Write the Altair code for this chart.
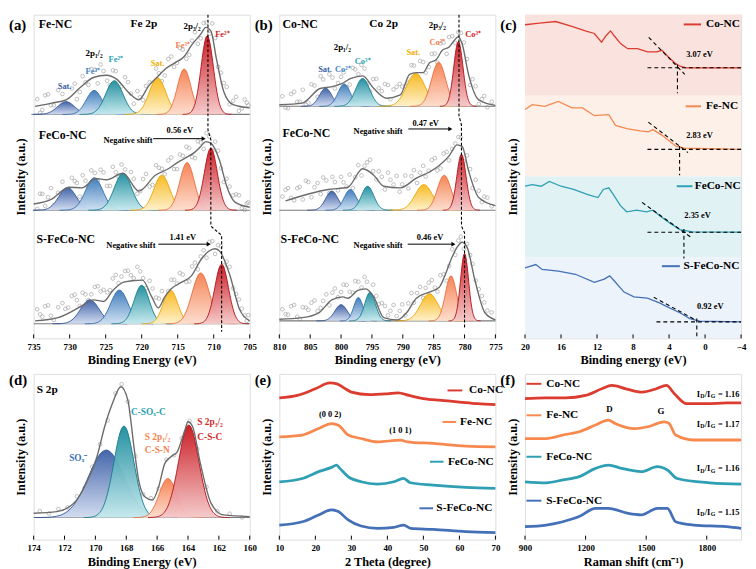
import altair as alt
import numpy as np
import pandas as pd

FONT = "Liberation Serif"
W = 219
HT = 328
HB = 168

# ================= (a) Fe 2p =================
fe_names = ["Fe-NC", "FeCo-NC", "S-FeCo-NC"]
fe_base = [69.2, 39.6, 4.5]
fe_cen = [[730.5, 726.6, 723.8, 717.8, 714.1, 710.9],
          [730.3, 726.6, 722.6, 717.2, 713.7, 710.4],
          [727.2, 723.1, 720.0, 716.0, 711.8, 708.9]]
fe_hgt = [[3.9, 7.4, 10.4, 11.3, 14.0, 24.3],
          [7.0, 10.0, 11.4, 10.8, 14.7, 19.2],
          [7.4, 10.4, 11.9, 10.4, 15.7, 18.4]]
fe_sig = [[1.2, 1.1, 1.2, 1.15, 0.95, 0.85],
          [1.2, 1.2, 1.2, 1.1, 1.0, 0.9],
          [1.3, 1.2, 1.05, 1.0, 1.2, 0.95]]
fe_env_x = [[734.8, 732.5, 730.5, 728.5, 726.7, 724.9, 723.5, 721.7, 720.4, 719.0, 717.9, 716.8, 715.4, 714.1, 713.1, 711.8, 711.1, 710.4, 709.6, 708.6, 707.3, 705.0],
            [735.0, 732.5, 730.1, 728.3, 726.4, 724.9, 722.6, 720.4, 718.1, 716.3, 715.0, 713.8, 712.7, 711.8, 711.1, 710.4, 709.2, 708.2, 707.0, 705.0],
            [734.8, 731.6, 728.0, 726.7, 725.3, 724.0, 722.6, 721.3, 719.9, 718.6, 717.7, 716.8, 715.9, 714.5, 713.1, 711.8, 710.7, 709.8, 709.1, 707.8, 706.4, 705.0]]
fe_env_y = [[71.7, 72.7, 73.7, 77.6, 80.6, 81.3, 80.1, 75.7, 73.7, 78.1, 80.6, 83.1, 85.1, 87.1, 90.5, 94.0, 96.1, 95.0, 86.1, 76.2, 72.2, 71.2],
            [41.5, 43.0, 46.7, 46.5, 49.4, 49.0, 51.0, 45.5, 50.4, 52.4, 54.4, 55.9, 57.4, 59.3, 60.8, 60.3, 55.0, 47.0, 42.0, 40.5],
            [5.4, 6.4, 10.4, 11.9, 11.4, 14.8, 17.3, 17.8, 18.0, 12.8, 9.4, 12.8, 15.3, 17.3, 19.3, 24.2, 26.9, 27.7, 26.7, 19.8, 8.9, 5.4]]
# raw data points (open circles)
fe_pts_x = [734.5, 733.8, 733.0, 732.2, 731.0, 730.2, 729.3, 728.6, 727.8, 727.0, 726.1, 725.3, 724.4, 723.6, 722.8, 721.9, 721.1, 720.2,
            719.4, 718.5, 717.6, 716.8, 715.9, 715.1, 714.3, 713.4, 712.6, 711.8, 711.0, 710.2, 709.4, 708.6, 707.8, 706.9, 706.1, 705.4]
fe_pts_y = [[73.9, 70.6, 75.4, 72.0, 75.5, 72.4, 78.7, 76.1, 79.1, 83.2, 78.8, 82.6, 78.2, 82.6, 77.8, 79.2, 72.5, 74.5,
             78.0, 76.4, 81.9, 81.2, 87.1, 85.1, 89.2, 87.6, 94.6, 92.7, 97.6, 97.3, 83.9, 78.9, 72.3, 74.6, 71.0, 72.8],
            [40.0, 44.6, 43.6, 41.1, 48.4, 45.5, 48.6, 43.8, 48.7, 51.9, 48.6, 51.3, 47.1, 51.3, 53.7, 47.4, 49.3, 45.5,
             50.8, 47.4, 52.7, 50.7, 55.9, 52.3, 56.4, 58.8, 55.7, 60.5, 63.4, 58.0, 58.0, 48.3, 46.9, 44.5, 40.2, 41.7],
            [9.0, 6.7, 10.2, 5.7, 10.9, 9.5, 13.5, 10.0, 13.6, 13.6, 16.1, 15.0, 14.9, 19.6, 19.1, 20.9, 18.6, 20.7,
             15.5, 15.4, 12.3, 11.9, 18.1, 16.9, 19.7, 17.6, 23.4, 25.3, 24.9, 30.0, 28.8, 22.5, 22.1, 13.7, 9.2, 5.4]]
fe_pts2_x = [734.1, 733.4, 732.6, 731.6, 730.6, 729.7, 729.0, 728.2, 727.4, 726.5, 725.7, 724.8, 724.0, 723.2, 722.3, 721.5, 720.6, 719.8,
             718.9, 718.0, 717.2, 716.3, 715.5, 714.7, 713.8, 713.0, 712.2, 711.4, 710.6, 709.8, 709.0, 708.2, 707.3, 706.5, 705.7, 705.2]
fe_pts2_y = [[69.7, 75.1, 72.0, 76.7, 72.8, 77.2, 73.9, 81.0, 78.3, 83.0, 84.6, 79.6, 82.8, 77.2, 80.7, 75.6, 76.4, 73.6,
              79.1, 83.4, 79.5, 86.3, 83.9, 89.7, 86.4, 92.0, 91.0, 97.4, 94.1, 92.8, 82.1, 77.7, 73.4, 70.3, 73.8, 72.0],
             [44.7, 40.9, 46.4, 45.0, 43.9, 49.6, 48.0, 50.4, 46.7, 51.1, 52.1, 47.1, 53.0, 49.8, 52.2, 51.4, 44.7, 49.2,
              46.9, 53.5, 52.4, 55.0, 52.3, 56.8, 59.2, 56.0, 60.9, 58.5, 62.3, 60.8, 52.6, 49.3, 44.2, 44.2, 39.7, 42.0],
             [7.4, 9.9, 7.0, 9.6, 9.1, 13.1, 11.8, 14.1, 11.8, 15.9, 14.5, 14.2, 18.5, 17.1, 20.8, 19.5, 22.1, 18.6,
              17.8, 12.6, 14.6, 14.6, 18.1, 20.2, 17.4, 22.2, 21.3, 27.2, 29.8, 26.1, 28.5, 23.7, 15.5, 12.0, 7.1, 7.2]]
fe_dash_x = [710.8, 710.8, 710.4, 710.4, 708.9, 708.9]
fe_dash_y = [100, 64.4, 61.4, 34.7, 31.8, 2.0]

# ================= (b) Co 2p =================
co_names = ["Co-NC", "FeCo-NC", "S-FeCo-NC"]
co_base = [71.7, 39.6, 5.4]
co_cen = [[802.5, 799.5, 796.5, 787.9, 784.2, 781.0],
          [801.5, 798.5, 795.7, 786.6, 783.3, 780.5],
          [800.0, 797.2, 795.3, 785.7, 782.2, 780.0]]
co_hgt = [[5.6, 6.9, 8.6, 10.2, 13.6, 20.0],
          [5.9, 6.4, 7.4, 7.9, 10.8, 17.3],
          [5.0, 7.2, 8.9, 8.4, 13.9, 20.8]]
co_sig = [[1.0, 1.0, 1.15, 1.5, 1.15, 0.75],
          [1.0, 1.0, 1.0, 1.4, 1.1, 0.75],
          [1.0, 0.75, 0.85, 1.4, 0.9, 0.65]]
co_env_x = [[810.0, 806.3, 803.4, 801.6, 800.0, 798.4, 796.5, 794.7, 792.6, 790.4, 788.9, 787.8, 786.7, 785.7, 784.6, 783.6, 782.5, 781.7, 781.0, 780.4, 779.3, 777.7, 775.0],
            [809.0, 802.1, 798.9, 796.5, 794.7, 793.1, 790.4, 787.8, 785.7, 784.1, 782.5, 781.2, 780.4, 779.3, 777.7, 775.0],
            [810.0, 806.3, 803.6, 801.5, 799.7, 798.9, 797.3, 796.0, 794.7, 793.1, 790.9, 789.4, 787.8, 785.7, 784.1, 783.0, 782.0, 781.2, 780.4, 779.6, 778.3, 776.7, 775.0]]
co_env_y = [[72.2, 72.7, 77.2, 77.7, 78.6, 80.3, 81.1, 77.2, 74.2, 75.2, 81.6, 82.1, 82.1, 85.1, 86.1, 89.0, 90.0, 92.0, 93.2, 91.0, 81.1, 73.7, 72.0],
            [42.5, 46.0, 46.7, 52.4, 50.4, 47.0, 46.5, 49.5, 51.4, 53.4, 56.4, 59.8, 59.3, 51.4, 43.5, 41.0],
            [5.9, 6.4, 7.9, 11.9, 12.8, 12.4, 14.8, 15.3, 12.8, 6.4, 5.7, 7.9, 12.4, 14.3, 15.8, 20.3, 25.2, 28.2, 29.7, 28.2, 17.8, 7.9, 5.7]]
co_pts_x = [809.5, 808.6, 807.6, 806.7, 805.7, 804.8, 803.8, 802.9, 801.9, 801.0, 800.0, 799.1, 798.1, 797.2, 796.2, 795.3, 794.3, 793.4,
            792.4, 791.5, 790.5, 789.6, 788.6, 787.7, 786.7, 785.8, 784.8, 783.9, 782.9, 782.0, 781.0, 780.1, 779.1, 778.2, 777.2, 776.3]
co_pts_y = [[74.8, 71.1, 76.2, 73.1, 72.2, 78.5, 74.6, 80.0, 81.6, 77.2, 80.8, 77.6, 83.6, 81.6, 83.4, 76.3, 80.2, 76.4,
             78.3, 76.9, 78.6, 77.9, 84.4, 80.0, 85.4, 83.8, 88.0, 91.1, 87.9, 93.4, 94.6, 91.4, 78.3, 77.9, 73.9, 71.4],
            [43.8, 46.4, 42.6, 46.8, 48.7, 43.6, 48.0, 49.7, 44.9, 48.3, 49.9, 46.9, 46.4, 53.5, 53.3, 55.2, 49.1, 49.9,
             51.2, 47.5, 45.3, 50.3, 50.1, 48.0, 53.3, 51.8, 55.7, 52.5, 57.6, 58.5, 62.2, 54.7, 52.3, 49.0, 42.1, 43.5],
            [9.0, 7.3, 10.3, 6.0, 9.5, 11.0, 8.4, 11.6, 10.2, 15.4, 14.3, 16.5, 14.1, 17.5, 19.0, 13.1, 13.1, 10.9,
             7.1, 10.3, 8.5, 7.1, 14.0, 14.0, 12.5, 17.2, 15.7, 19.5, 17.8, 27.5, 30.2, 27.7, 25.7, 17.9, 13.1, 8.6]]
co_pts2_x = [809.0, 808.1, 807.1, 806.2, 805.3, 804.3, 803.3, 802.4, 801.4, 800.5, 799.6, 798.6, 797.7, 796.7, 795.8, 794.8, 793.9, 792.9,
             792.0, 791.0, 790.1, 789.1, 788.2, 787.2, 786.3, 785.3, 784.4, 783.4, 782.5, 781.5, 780.6, 779.6, 778.7, 777.7, 776.8, 775.6]
co_pts2_y = [[71.3, 75.5, 73.1, 76.8, 72.8, 78.1, 81.0, 76.0, 80.6, 78.9, 82.2, 78.4, 83.1, 84.5, 78.7, 80.1, 77.3, 78.6,
              73.9, 77.7, 77.8, 79.0, 84.3, 85.7, 82.1, 87.9, 85.2, 91.4, 93.1, 91.3, 94.4, 86.3, 80.1, 72.4, 74.9, 73.1],
             [45.9, 43.4, 46.4, 42.9, 48.3, 46.7, 44.6, 48.8, 49.9, 45.7, 48.2, 50.6, 49.8, 50.3, 54.4, 51.7, 51.6, 46.0,
              49.0, 50.2, 47.6, 46.3, 52.0, 51.2, 50.0, 55.1, 51.9, 57.1, 55.0, 60.2, 62.1, 56.5, 46.4, 45.6, 43.8, 40.8],
             [7.5, 9.9, 6.7, 9.6, 8.8, 11.7, 9.4, 13.6, 14.1, 12.7, 16.6, 14.4, 17.7, 15.7, 17.5, 16.6, 10.6, 10.0,
              8.5, 6.9, 10.5, 10.8, 11.0, 15.9, 15.6, 18.0, 14.4, 19.8, 22.4, 25.8, 31.4, 29.2, 23.0, 15.2, 11.1, 8.0]]
co_dash_x = [780.9, 780.9, 780.5, 780.5, 780.0, 780.0]
co_dash_y = [100, 68.8, 65.9, 34.7, 32.6, 3.0]

# ================= (c) VB spectra =================
c_names = ["Co-NC", "Fe-NC", "FeCo-NC", "S-FeCo-NC"]
c_colors = ["#dc3b30", "#f7894e", "#2f9fb3", "#4470b8"]
c_bands = ["#fae3de", "#fdf0e9", "#e1f2f5", "#ecf3fa"]
c_x = [[20, 18.4, 16.6, 14.8, 13.3, 12.3, 11.5, 11.0, 10.5, 10.1, 9.35, 8.6, 7.5, 6.4, 5.35, 4.8, 4.1, 3.35, 2.8, 2.1, -4],
       [20, 19.2, 17.8, 16.3, 14.8, 13.6, 12.3, 10.7, 9.95, 8.7, 7.2, 6.3, 5.8, 4.8, 3.9, 3.2, 2.3, -4],
       [20, 19.2, 18.2, 17.3, 16.0, 14.6, 13.1, 11.9, 11.3, 10.7, 10.2, 9.4, 8.7, 7.6, 6.5, 5.8, 4.9, 3.9, 2.8, 1.4, -4],
       [20, 18.8, 18.1, 16.3, 14.4, 12.3, 11.2, 10.6, 10.1, 9.0, 7.9, 6.4, 5.0, 4.3, 2.8, 1.7, 0.6, -4]]
c_y = [[96.9, 97.4, 97.9, 96.4, 95.0, 94.2, 91.5, 93.5, 95.0, 93.5, 91.0, 89.5, 89.5, 88.5, 88.5, 89.0, 87.0, 85.1, 84.1, 83.6, 83.6],
       [70.7, 72.2, 71.7, 73.2, 71.2, 71.2, 68.8, 69.1, 65.8, 64.8, 64.1, 63.8, 64.5, 62.8, 60.8, 59.3, 58.8, 58.4],
       [47.0, 47.5, 47.0, 48.5, 47.0, 46.0, 44.5, 43.5, 46.0, 46.5, 44.5, 41.0, 39.1, 39.6, 39.1, 39.6, 37.6, 35.6, 33.6, 32.9, 32.8],
       [21.8, 22.8, 21.3, 20.8, 19.8, 17.3, 18.3, 19.3, 17.8, 14.3, 12.8, 12.4, 10.9, 9.9, 7.9, 6.1, 5.3, 5.1]]
c_edge = [3.07, 2.83, 2.35, 0.92]
c_flat = [83.6, 58.4, 32.8, 5.1]
c_vbot = [75.7, 50.4, 24.7, 0.5]
c_tan = [[6.26, 93.0, 2.26, 81.6], [6.3, 66.8, 1.9, 57.4], [7.0, 42.0, 1.4, 30.9], [5.7, 12.7, 1.2, 5.9]]
c_lab_xy = [[2.1, 88.0], [2.1, 62.8], [2.3, 38.1], [0.9, 9.9]]
c_leg = [[2.37, 0.45, -0.1, 97.0], [2.15, 0.45, -0.1, 71.7], [3.15, 1.4, 1.15, 47.0], [4.8, 2.8, 2.4, 22.3]]

# ================= (d) S 2p =================
s_cen = [169.3, 168.15, 165.3, 163.95]
s_hgt = [40.7, 55.2, 23.6, 55.8]
s_sig = [1.15, 0.65, 0.56, 0.66]
s_base = 13.3
s_env_x = [174.0, 172.5, 171.4, 170.6, 169.9, 169.4, 168.9, 168.35, 167.9, 167.5, 167.2, 166.8, 166.3, 165.9, 165.5, 165.1, 164.7, 164.2, 164.0, 163.7, 163.2, 162.5, 161.7, 160.0]
s_env_y = [15.9, 16.9, 21.9, 33.9, 50.0, 68.1, 82.1, 92.2, 84.2, 56.0, 36.0, 25.9, 23.9, 31.9, 46.0, 50.0, 53.0, 66.1, 71.1, 68.1, 46.0, 21.9, 14.9, 13.9]
s_pts_x = [173.6, 173.0, 172.4, 171.8, 171.2, 170.7, 170.2, 169.7, 169.2, 168.7, 168.3, 167.9, 167.4, 166.9, 166.4, 165.9, 165.4,
           164.9, 164.4, 163.9, 163.4, 162.8, 162.1, 161.3, 160.5]
s_pts_y = [17.2, 15.8, 18.5, 19.4, 26.1, 31.2, 43.9, 57.5, 72.0, 88.2, 93.8, 83.3, 50.4, 27.3, 25.0, 30.8, 48.3,
           50.9, 61.2, 71.6, 54.7, 31.8, 17.1, 15.6, 13.4]

# ================= (e) XRD =================
e_x = [[10, 15, 20, 24, 26, 28, 30, 35, 40, 43, 46, 50, 55, 60, 65, 70],
       [10, 16.4, 20.9, 24.5, 26.4, 29.1, 32.7, 37.3, 43.6, 45.5, 52.7, 61.8, 70],
       [10, 16.4, 20.9, 24.5, 25.9, 26.8, 29.1, 32.7, 37.3, 41.8, 44.5, 46.4, 52.7, 61.8, 70],
       [10, 16.4, 20.9, 24.5, 26.4, 29.1, 32.7, 37.3, 41.8, 44.5, 46.4, 52.7, 61.8, 70]]
e_y = [[85.5, 87, 91, 94.5, 94, 91.5, 89, 87.5, 88, 88.5, 87, 85, 84, 83, 82, 81.5],
       [62, 63.1, 67, 70, 69, 63.1, 61, 59, 60, 59, 58, 56.4, 56],
       [34.9, 36.9, 41, 43.6, 45, 43, 38, 34.9, 33.5, 34.9, 36.9, 34.3, 32.9, 31.5, 30.9],
       [8.8, 10.8, 14.9, 17.9, 16.9, 11.9, 8.2, 6.8, 7.4, 8.8, 6.8, 6.2, 4.8, 4.2]]
e_leg = [[56.7, 60.8, 62.7, 90.0], [55.3, 59.1, 60.2, 71.0], [51.8, 55.6, 56.8, 47.0], [48.9, 52.7, 53.6, 18.9]]

# ================= (f) Raman =================
f_x = [[900, 1000, 1100, 1200, 1280, 1330, 1400, 1480, 1550, 1600, 1640, 1700, 1800, 1900, 1970],
       [900, 1005, 1087, 1168, 1249, 1313, 1346, 1443, 1508, 1589, 1613, 1646, 1735, 1897, 1970],
       [900, 1005, 1087, 1168, 1249, 1313, 1378, 1475, 1556, 1605, 1654, 1816, 1970],
       [900, 1005, 1087, 1168, 1249, 1313, 1411, 1475, 1556, 1605, 1646, 1735, 1897, 1970]]
f_y = [[85, 85.5, 85.5, 87, 91, 93, 91, 89, 91, 93, 88, 82, 82, 82.5, 82.5],
       [61, 61, 63.1, 65.1, 69.1, 72.1, 70.1, 67, 68.1, 71.1, 70.1, 63.1, 60.1, 60.1, 60.1],
       [34.9, 34.3, 36, 38, 43, 45, 43, 41, 44, 42, 36.9, 34.3, 33.5],
       [7.8, 8.8, 10.8, 13.9, 18.9, 18.9, 15.8, 14.9, 18.9, 18.9, 10.8, 8.8, 7.8, 6.8]]
f_ratio = ["1.16", "1.17", "1.16", "1.15"]
f_ratio_y = [88.0, 70.0, 43.0, 16.9]
f_leg_y = [94.0, 75.0, 50.0, 23.5]

# peak palette: dark blue, blue, teal, yellow, orange, red
pk_top = ["#3b5ea6", "#3a78b8", "#1a8c9c", "#f7b718", "#f57f4f", "#c8141c"]
pk_bot = ["#d0dbef", "#cde0f2", "#c6e9ee", "#fef0c8", "#fddccd", "#f5c8c8"]
pk_edge = ["#2d4f94", "#2c68a8", "#137a8a", "#eaa100", "#ea6a38", "#b00d14"]


# ---------------- helpers ----------------
def make_x(domain, reverse, values, title, fmt=None):
    kw = dict(title=title, values=values, ticks=False, domain=False, grid=False,
              labelFont=FONT, labelFontSize=9, labelFontWeight="bold", labelColor="black",
              labelPadding=4, labelFlush=False, titleFont=FONT, titleFontSize=12.5,
              titleFontWeight="bold", titleColor="black", titlePadding=3)
    if fmt:
        kw["format"] = fmt
    return alt.X("x:Q", scale=alt.Scale(domain=domain, reverse=reverse, nice=False, zero=False), axis=alt.Axis(**kw))


def make_y():
    return alt.Y("y:Q", scale=alt.Scale(domain=[0, 100], nice=False, zero=False),
                 axis=alt.Axis(title="Intensity (a.u.)", labels=False, ticks=False, domain=False, grid=False,
                               titleFont=FONT, titleFontSize=12.5, titleFontWeight="bold", titleColor="black",
                               titlePadding=6))


def texts(rows, align, X, Y):
    df = pd.DataFrame(rows, columns=["x", "y", "label", "c", "s"])
    return alt.Chart(df).mark_text(align=align, baseline="middle", font=FONT, fontWeight="bold").encode(
        x=X, y=Y, text="label:N", color=alt.Color("c:N", scale=None), size=alt.Size("s:Q", scale=None))


def panel_label(lab, ypix):
    return alt.Chart(pd.DataFrame({"label": [lab]})).mark_text(
        align="left", baseline="middle", font=FONT, fontWeight="bold", fontSize=15, color="black").encode(
        text="label:N", x=alt.value(-25), y=alt.value(ypix))


def inner_ticks(vals, X, H):
    return alt.Chart(pd.DataFrame({"x": vals})).mark_rule(color="black", strokeWidth=1).encode(
        x=X, y=alt.value(H), y2=alt.value(H - 4))


def peak_layers(cen, hgt, sig, base, types, X, Y):
    layers = []
    for i in range(len(base)):
        for j in range(len(cen[i])):
            c, h, s = cen[i][j], hgt[i][j], sig[i][j]
            xs = np.linspace(c - 4 * s, c + 4 * s, 81)
            ys = base[i] + h * np.exp(-0.5 * ((xs - c) / s) ** 2)
            df = pd.DataFrame({"x": xs, "y": ys, "y0": base[i]})
            t = types[j]
            grad = alt.LinearGradient(gradient="linear",
                                      stops=[alt.GradientStop(color=pk_top[t], offset=0),
                                             alt.GradientStop(color=pk_bot[t], offset=1)],
                                      x1=0, x2=0, y1=0, y2=1)
            layers.append(alt.Chart(df).mark_area(color=grad, opacity=0.95,
                                                  line={"color": pk_edge[t], "strokeWidth": 0.9}).encode(
                x=X, y=Y, y2=alt.Y2("y0:Q")))
    return layers


def env_layer(xs_list, ys_list, X, Y):
    rows = []
    for k, (xs, ys) in enumerate(zip(xs_list, ys_list)):
        for a, b in zip(xs, ys):
            rows.append({"x": a, "y": b, "k": k})
    return alt.Chart(pd.DataFrame(rows)).mark_line(color="#6b6b6b", strokeWidth=1.4, interpolate="monotone").encode(
        x=X, y=Y, detail="k:N")


def pts_layer(sets, X, Y):
    rows = []
    for xs, ys_list in sets:
        for ys in ys_list:
            for a, b in zip(xs, ys):
                rows.append({"x": a, "y": b})
    return alt.Chart(pd.DataFrame(rows)).mark_point(shape="circle", filled=False, size=14, color="#a9a9a9",
                                                    strokeWidth=0.8, opacity=0.9).encode(x=X, y=Y)


def base_layer(bases, X, Y):
    return alt.Chart(pd.DataFrame({"y": bases})).mark_rule(color="#7a7a7a", strokeWidth=1.1).encode(y=Y)


def dash_layer(xs, ys, X, Y):
    df = pd.DataFrame({"x": xs, "y": ys, "i": range(len(xs))})
    return alt.Chart(df).mark_line(color="black", strokeDash=[3, 2], strokeWidth=1.1).encode(
        x=X, y=Y, order="i:Q")


def arrow_layers(arrows, X, Y):
    df = pd.DataFrame(arrows, columns=["x", "x2", "y"])
    shaft = alt.Chart(df).mark_rule(color="black", strokeWidth=1).encode(x=X, x2=alt.X2("x2:Q"), y=Y)
    hdf = pd.DataFrame({"x": df["x2"], "y": df["y"]})
    head = alt.Chart(hdf).mark_point(shape="triangle-right", filled=True, size=22, color="black", opacity=1).encode(
        x=X, y=Y)
    return [shaft, head]


# ---------------- panel (a) ----------------
Xa = make_x([705, 735], True, list(range(705, 736, 5)), "Binding Energy (eV)")
Ya = make_y()
la = [inner_ticks(list(range(705, 736, 5)), Xa, HT),
      pts_layer([(fe_pts_x, fe_pts_y), (fe_pts2_x, fe_pts2_y)], Xa, Ya), base_layer(fe_base, Xa, Ya)]
la += peak_layers(fe_cen, fe_hgt, fe_sig, fe_base, [0, 1, 2, 3, 4, 5], Xa, Ya)
la += [env_layer(fe_env_x, fe_env_y, Xa, Ya), dash_layer(fe_dash_x, fe_dash_y, Xa, Ya)]
la += arrow_layers([[718.4, 711.4, 61.7], [717.7, 710.7, 29.1]], Xa, Ya)
la += [texts([[734.3, 97, "Fe-NC", "black", 12], [734.3, 62.8, "FeCo-NC", "black", 12],
              [734.6, 30.6, "S-FeCo-NC", "black", 12], [709.8, 94, "Fe²⁺", "#d42020", 8.5]], "left", Xa, Ya),
       texts([[719.7, 97, "Fe 2p", "black", 11.5], [713.0, 96.4, "2p₃/₂", "black", 9],
              [714.3, 90.5, "Fe³⁺", "#f5804e", 8.5], [717.8, 85.2, "Sat.", "#f2ae00", 8.5],
              [723.6, 86.4, "Fe²⁺", "#2a9fb5", 8.5], [726.6, 88.2, "2p₁/₂", "black", 9],
              [726.8, 82.6, "Fe³⁺", "#3d84c6", 8.5], [730.7, 78.1, "Sat.", "#3b5ea6", 8.5],
              [721.9, 61.4, "Negative shift", "black", 8.5], [714.7, 64.4, "0.56 eV", "black", 8.5],
              [721.5, 28.8, "Negative shift", "black", 8.5], [714.3, 31.3, "1.41 eV", "black", 8.5]],
             "center", Xa, Ya),
       panel_label("(a)", 10)]
pa = alt.layer(*la).properties(width=W, height=HT)

# ---------------- panel (b) ----------------
Xb = make_x([775, 810], True, list(range(775, 811, 5)), "Binding energy (eV)")
Yb = make_y()
lb = [inner_ticks(list(range(775, 811, 5)), Xb, HT),
      pts_layer([(co_pts_x, co_pts_y), (co_pts2_x, co_pts2_y)], Xb, Yb), base_layer(co_base, Xb, Yb)]
lb += peak_layers(co_cen, co_hgt, co_sig, co_base, [0, 1, 2, 3, 4, 5], Xb, Yb)
lb += [env_layer(co_env_x, co_env_y, Xb, Yb), dash_layer(co_dash_x, co_dash_y, Xb, Yb)]
lb += arrow_layers([[789.1, 782.3, 64.7], [789.2, 781.8, 29.1]], Xb, Yb)
lb += [texts([[809.5, 97, "Co-NC", "black", 12], [809.5, 63.3, "FeCo-NC", "black", 12],
              [809.8, 30.7, "S-FeCo-NC", "black", 12], [779.9, 94, "Co³⁺", "#d42020", 8.5]], "left", Xb, Yb),
       texts([[793.1, 97, "Co 2p", "black", 11.5], [784.4, 96.7, "2p₃/₂", "black", 9],
              [784.4, 91.5, "Co²⁺", "#f5804e", 8.5], [788.3, 88.5, "Sat.", "#f2ae00", 8.5],
              [799.8, 90.0, "2p₁/₂", "black", 9], [802.6, 83.1, "Sat.", "#3b5ea6", 8.5],
              [799.7, 83.1, "Co²⁺", "#3d84c6", 8.5], [796.5, 85.8, "Co³⁺", "#2a9fb5", 8.5],
              [794.0, 64.1, "Negative shift", "black", 8.5], [786.3, 66.4, "0.47 eV", "black", 8.5],
              [794.0, 28.8, "Negative shift", "black", 8.5], [785.6, 31.3, "0.46 eV", "black", 8.5]],
             "center", Xb, Yb),
       panel_label("(b)", 10)]
pb = alt.layer(*lb).properties(width=W, height=HT)

# ---------------- panel (c) ----------------
Xc = make_x([-4, 20], True, list(range(-4, 21, 4)), "Binding energy (eV)")
Yc = make_y()
band_df = pd.DataFrame({"x": [20] * 4, "x2": [-4] * 4, "y": [75, 50, 25, 0], "y2": [100, 75, 50, 25], "c": c_bands})
lc = [alt.Chart(band_df).mark_rect().encode(x=Xc, x2="x2:Q", y=Yc, y2="y2:Q", color=alt.Color("c:N", scale=None)),
      inner_ticks(list(range(-4, 21, 4)), Xc, HT)]
rows = []
for k in range(4):
    for a, b in zip(c_x[k], c_y[k]):
        rows.append({"x": a, "y": b, "k": k, "c": c_colors[k]})
lc.append(alt.Chart(pd.DataFrame(rows)).mark_line(strokeWidth=1.3).encode(
    x=Xc, y=Yc, detail="k:N", color=alt.Color("c:N", scale=None)))
seg = []
for k in range(4):
    seg.append([c_tan[k][0], c_tan[k][2], c_tan[k][1], c_tan[k][3]])
    seg.append([6.4 if k < 3 else 5.4, -4, c_flat[k], c_flat[k]])
    seg.append([c_edge[k], c_edge[k], c_flat[k] + 1.0, c_vbot[k]])
seg_df = pd.DataFrame(seg, columns=["x", "x2", "y", "y2"])
lc.append(alt.Chart(seg_df).mark_rule(color="black", strokeDash=[4, 3], strokeWidth=1.1).encode(
    x=Xc, x2="x2:Q", y=Yc, y2="y2:Q"))
leg_df = pd.DataFrame({"x": [r[0] for r in c_leg], "x2": [r[1] for r in c_leg], "y": [r[3] for r in c_leg], "c": c_colors})
lc.append(alt.Chart(leg_df).mark_rule(strokeWidth=2).encode(x=Xc, x2="x2:Q", y=Yc, color=alt.Color("c:N", scale=None)))
lc.append(texts([[c_leg[k][2], c_leg[k][3], c_names[k], "black", 11.5] for k in range(4)] +
                [[c_lab_xy[k][0], c_lab_xy[k][1], f"{c_edge[k]:.2f} eV", "black", 8.5] for k in range(4)],
                "left", Xc, Yc))
lc.append(panel_label("(c)", 10))
pc = alt.layer(*lc).properties(width=W, height=HT)

# ---------------- panel (d) ----------------
Xd = make_x([160, 174], True, list(range(160, 175, 2)), "Binding Energy (eV)")
Yd = make_y()
ld = [inner_ticks(list(range(160, 175, 2)), Xd, HB), pts_layer([(s_pts_x, [s_pts_y])], Xd, Yd),
      base_layer([s_base], Xd, Yd)]
ld += peak_layers([s_cen], [s_hgt], [s_sig], [s_base], [0, 2, 4, 5], Xd, Yd)
ld += [env_layer([s_env_x], [s_env_y], Xd, Yd)]
ld += [texts([[173.8, 90.4, "S 2p", "black", 11.5], [167.7, 77, "C-SOₓ-C", "#2a9fb0", 9.5],
              [171.7, 49, "SOₓ⁻", "#3d6fb5", 9.5], [166.8, 62, "S 2p₁/₂", "#f5824f", 9.5],
              [166.8, 54, "C-S-N", "#f5824f", 9.5], [163.4, 71, "S 2p₃/₂", "#d42a2a", 9.5],
              [163.4, 62, "C-S-C", "#d42a2a", 9.5]], "left", Xd, Yd),
       panel_label("(d)", 6)]
pd_ = alt.layer(*ld).properties(width=W, height=HB)

# ---------------- panel (e) ----------------
Xe = make_x([10, 70], False, list(range(10, 71, 10)), "2 Theta (degree)")
Ye = make_y()
rows = []
for k in range(4):
    for a, b in zip(e_x[k], e_y[k]):
        rows.append({"x": a, "y": b, "k": k, "c": c_colors[k]})
le = [inner_ticks(list(range(10, 71, 10)), Xe, HB),
      alt.Chart(pd.DataFrame(rows)).mark_line(strokeWidth=2.8, interpolate="monotone").encode(
          x=Xe, y=Ye, detail="k:N", color=alt.Color("c:N", scale=None))]
eleg = pd.DataFrame({"x": [r[0] for r in e_leg], "x2": [r[1] for r in e_leg], "y": [r[3] for r in e_leg], "c": c_colors})
le.append(alt.Chart(eleg).mark_rule(strokeWidth=2).encode(x=Xe, x2="x2:Q", y=Ye, color=alt.Color("c:N", scale=None)))
le.append(texts([[e_leg[k][2], e_leg[k][3], c_names[k], "black", 11.5] for k in range(4)], "left", Xe, Ye))
le.append(texts([[24.1, 76, "(0 0 2)", "black", 8.5], [43.6, 66, "(1 0 1)", "black", 8.5]], "center", Xe, Ye))
le.append(panel_label("(e)", 6))
pe = alt.layer(*le).properties(width=W, height=HB)

# ---------------- panel (f) ----------------
Xf = make_x([900, 1970], False, [900, 1200, 1500, 1800], "Raman shift (cm⁻¹)", fmt="d")
Yf = make_y()
rows = []
for k in range(4):
    for a, b in zip(f_x[k], f_y[k]):
        rows.append({"x": a, "y": b, "k": k, "c": c_colors[k]})
lf = [inner_ticks([900, 1200, 1500, 1800], Xf, HB),
      alt.Chart(pd.DataFrame(rows)).mark_line(strokeWidth=2.8, interpolate="monotone").encode(
          x=Xf, y=Yf, detail="k:N", color=alt.Color("c:N", scale=None))]
fleg = pd.DataFrame({"x": [907] * 4, "x2": [981] * 4, "y": f_leg_y, "c": c_colors})
lf.append(alt.Chart(fleg).mark_rule(strokeWidth=2).encode(x=Xf, x2="x2:Q", y=Yf, color=alt.Color("c:N", scale=None)))
lf.append(texts([[1005, f_leg_y[k], c_names[k], "black", 11.5] for k in range(4)], "left", Xf, Yf))
lf.append(texts([[1318, 78.7, "D", "black", 9], [1573, 77.7, "G", "black", 9]], "center", Xf, Yf))
ratio_df = pd.DataFrame({"x": [1962] * 4, "y": f_ratio_y, "label": [f"= {r}" for r in f_ratio]})
base_txt = dict(align="right", baseline="middle", font=FONT, fontWeight="bold", color="black")
lf.append(alt.Chart(ratio_df).mark_text(fontSize=8.5, **base_txt).encode(x=Xf, y=Yf, text="label:N"))
for piece, fs, dx, dy in [("G", 6, -24.5, 2.5), ("/I", 8.5, -29.5, 0), ("D", 6, -35.5, 2.5), ("I", 8.5, -40, 0)]:
    lf.append(alt.Chart(ratio_df).mark_text(fontSize=fs, dx=dx, dy=dy, **base_txt).encode(
        x=Xf, y=Yf, text=alt.value(piece)))
lf.append(panel_label("(f)", 6))
pf = alt.layer(*lf).properties(width=W, height=HB)

chart = alt.concat(pa, pb, pc, pd_, pe, pf, columns=3, spacing={"row": 36, "column": 30}, bounds="flush").properties(
    padding={"left": 0, "top": 0, "right": 0, "bottom": 0}, background="white"
).configure_view(stroke="black", strokeWidth=1.4).configure(font=FONT)

chart.save("out.html", embed_options={"renderer": "svg", "actions": False})
